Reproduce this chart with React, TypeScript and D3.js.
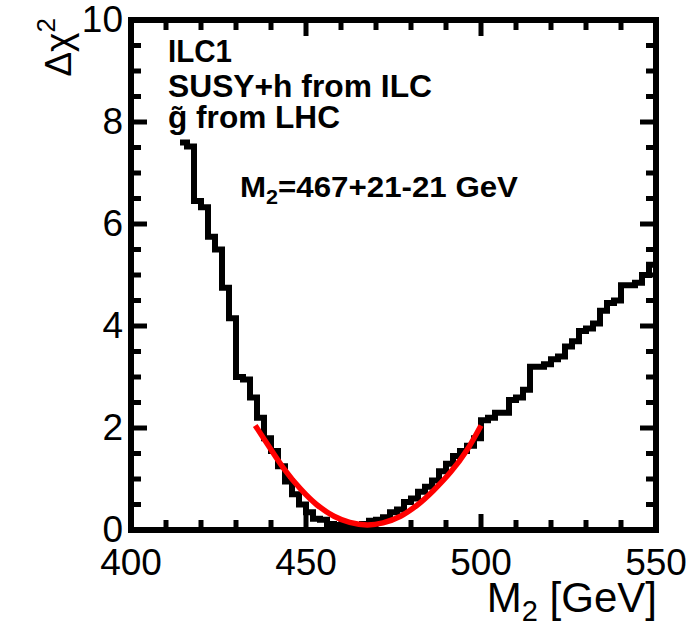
import React, { useRef, useEffect } from 'react';
import * as d3 from 'd3';

// histogram of delta chi2 vs M2, 2 GeV bins (left edges)
const binStarts = [
  414, 416, 418, 420, 422, 424, 426, 428, 430, 432, 434, 436, 438, 440, 442, 444, 446,
  448, 450, 452, 454, 456, 458, 460, 462, 464, 466, 468, 470, 472, 474, 476, 478, 480,
  482, 484, 486, 488, 490, 492, 494, 496, 498, 500, 502, 504, 506, 508, 510, 512, 514,
  516, 518, 520, 522, 524, 526, 528, 530, 532, 534, 536, 538, 540, 542, 544, 546, 548,
];
const binValues = [
  7.6, 7.52, 6.45, 6.33, 5.75, 5.5, 4.75, 4.15, 3.0, 2.95, 2.6, 2.2, 1.8, 1.55, 1.25, 0.95, 0.7,
  0.5, 0.35, 0.22, 0.2, 0.12, 0.1, 0.08, 0.06, 0.08, 0.12, 0.18, 0.2, 0.25, 0.35, 0.4, 0.55, 0.62,
  0.75, 0.85, 0.97, 1.15, 1.3, 1.45, 1.55, 1.65, 1.8, 2.15, 2.2, 2.3, 2.3, 2.55, 2.6, 2.75, 3.2,
  3.2, 3.25, 3.35, 3.4, 3.6, 3.7, 3.9, 3.95, 4.05, 4.3, 4.45, 4.5, 4.8, 4.8, 4.85, 5.0, 5.2,
];
const histEnd = 550;

// red parabola fit
const fitM = [435.5, 439, 443.5, 448.5, 453, 458, 462.5, 467.5, 472, 477, 482, 486.5, 491.5, 496, 500];
const fitChi = [2.05, 1.68, 1.22, 0.8, 0.5, 0.27, 0.15, 0.1, 0.14, 0.27, 0.5, 0.78, 1.15, 1.57, 2.05];

const xMajor = [400, 450, 500, 550];
const xMinor = [410, 420, 430, 440, 460, 470, 480, 490, 510, 520, 530, 540];
const yMajor = [0, 2, 4, 6, 8, 10];
const yMinor = [0.5, 1, 1.5, 2.5, 3, 3.5, 4.5, 5, 5.5, 6.5, 7, 7.5, 8.5, 9, 9.5];

const FONT = "'Liberation Sans', Arial, Helvetica, sans-serif";

const x = d3.scaleLinear().domain([400, 550]).range([131, 656]);
const y = d3.scaleLinear().domain([0, 10]).range([530, 20]);

// tick marks inside the frame on all four sides
const Ticks: React.FC = () => {
  const left = x(400), right = x(550), bottom = y(0), top = y(10);
  const segs: [number, number, number, number][] = [];
  xMajor.concat(xMinor).forEach(v => {
    const len = xMajor.includes(v) ? 16 : 10;
    segs.push([x(v), bottom, x(v), bottom - len]);
    segs.push([x(v), top, x(v), top + len]);
  });
  yMajor.concat(yMinor).forEach(v => {
    const len = yMajor.includes(v) ? 16 : 10;
    segs.push([left, y(v), left + len, y(v)]);
    segs.push([right, y(v), right - len, y(v)]);
  });
  return (
    <g stroke="#000" strokeWidth={5}>
      {segs.map((s, i) => (
        <line key={i} x1={s[0]} y1={s[1]} x2={s[2]} y2={s[3]} />
      ))}
    </g>
  );
};

const App: React.FC = () => {
  const plotRef = useRef<SVGGElement>(null);

  useEffect(() => {
    if (!plotRef.current) return;
    const g = d3.select(plotRef.current);
    g.selectAll('*').remove();

    // histogram
    const pts: [number, number][] = binStarts.map((m, i) => [m, binValues[i]]);
    pts.push([histEnd, binValues[binValues.length - 1]]);
    pts.push([histEnd, 0]);
    const step = d3.line<[number, number]>()
      .x(d => x(d[0]))
      .y(d => y(d[1]))
      .curve(d3.curveStepAfter);
    g.append('path')
      .attr('d', step(pts))
      .attr('fill', 'none')
      .attr('stroke', '#000')
      .attr('stroke-width', 6)
      .attr('stroke-linejoin', 'miter');

    // fit curve
    const fit = d3.line<number>()
      .x(d => x(d))
      .y((d, i) => y(fitChi[i]))
      .curve(d3.curveCatmullRom);
    g.append('path')
      .attr('d', fit(fitM))
      .attr('fill', 'none')
      .attr('stroke', '#f00')
      .attr('stroke-width', 5.5);

    // tick labels
    const lab = g.append('g').style('font-family', FONT).style('font-size', '37px').attr('fill', '#000');
    xMajor.forEach(v => {
      lab.append('text').attr('x', x(v)).attr('y', 575).attr('text-anchor', 'middle').text(v);
    });
    yMajor.forEach(v => {
      lab.append('text').attr('x', 123).attr('y', y(v) + 12).attr('text-anchor', 'end').text(v);
    });

    // axis titles
    const xTitle = g.append('text')
      .attr('x', 657).attr('y', 612)
      .attr('text-anchor', 'end')
      .style('font-family', FONT).style('font-size', '42px');
    xTitle.append('tspan').text('M');
    xTitle.append('tspan').attr('dy', 9).style('font-size', '29px').text('2');
    xTitle.append('tspan').attr('dy', -9).text(' [GeV]');

    const yTitle = g.append('text')
      .attr('transform', 'translate(71,18) rotate(-90)')
      .attr('text-anchor', 'end')
      .style('font-family', FONT).style('font-size', '37px');
    yTitle.append('tspan').text('Δχ');
    yTitle.append('tspan').attr('dy', -16).style('font-size', '26px').text('2');

    // annotations
    const ann = g.append('g').style('font-family', FONT).style('font-weight', 'bold').style('font-size', '32px');
    ann.append('text').attr('x', 168).attr('y', 62).attr('textLength', 64).attr('lengthAdjust', 'spacingAndGlyphs').text('ILC1');
    ann.append('text').attr('x', 168).attr('y', 97).attr('textLength', 264).attr('lengthAdjust', 'spacingAndGlyphs').text('SUSY+h from ILC');
    ann.append('text').attr('x', 168).attr('y', 128).attr('textLength', 172).attr('lengthAdjust', 'spacingAndGlyphs').text('g\u0303 from LHC');

    const mt = g.append('text')
      .attr('x', 240).attr('y', 197)
      .attr('textLength', 278).attr('lengthAdjust', 'spacingAndGlyphs')
      .style('font-family', FONT).style('font-weight', 'bold').style('font-size', '29px');
    mt.append('tspan').text('M');
    mt.append('tspan').attr('dy', 7).style('font-size', '20px').text('2');
    mt.append('tspan').attr('dy', -7).text('=467+21-21 GeV');
  }, []);

  return (
    <svg width={689} height={627} style={{ position: 'absolute', left: 0, top: 0, display: 'block' }}>
      <rect width={689} height={627} fill="#fff" />
      <rect x={x(400)} y={y(10)} width={x(550) - x(400)} height={y(0) - y(10)} fill="none" stroke="#000" strokeWidth={6} />
      <Ticks />
      <g ref={plotRef} />
    </svg>
  );
};

export default App;
